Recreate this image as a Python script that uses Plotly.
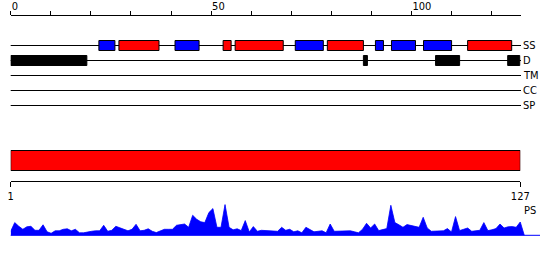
import plotly.graph_objects as go

# ---------------- data ----------------
axis_ticks = [0, 50, 100]
axis_minor = 10
seq_len = 127

track_names = ["SS", "D", "TM", "CC", "SP"]

ss_start = [22, 27, 41, 53, 56, 71, 79, 91, 95, 103, 114]
ss_end = [26, 37, 47, 55, 68, 78, 88, 93, 101, 110, 125]
ss_kind = ["E", "H", "E", "H", "H", "E", "H", "E", "E", "E", "H"]

d_start = [0, 88, 106, 124]
d_end = [19, 89, 112, 127]

domain_start = [1]
domain_end = [127]

ps_values = [
    4, 12.7, 9, 6, 8.5, 9, 5, 5, 10.5, 3.5,
    2, 4.5, 4.5, 6, 6.5, 4.5, 6, 2.5, 2.5, 3.5,
    4, 4.5, 4.5, 10, 4, 5, 9, 7.5, 6, 4.5,
    6, 11, 4.5, 5, 6.5, 4, 2.7, 4, 6, 6,
    6, 10, 11, 11.3, 8, 20, 16, 13.5, 12.7, 22.7,
    26.7, 8, 8, 30.7, 8, 5.5, 6.5, 4.7, 14.7, 3.3,
    8.7, 4, 5, 4.7, 4, 4, 4, 8, 5, 6,
    3.5, 4.5, 2.5, 8, 6, 3.5, 4, 4.5, 2.5, 11.3,
    4, 4, 4, 4, 4.5, 3.5, 2.5, 6, 12, 7.3,
    11.3, 4.7, 5.5, 6.7, 30, 12.7, 10.5, 8, 10.7, 10,
    9, 8, 18, 7.3, 4, 4, 4, 4.5, 6.7, 3.3,
    18.7, 4.7, 6, 7.3, 4, 4.5, 5, 12.7, 4.7, 5.5,
    6.7, 11.3, 7.3, 8.5, 8.7, 8, 13.3,
]

# ---------------- layout geometry (pixels) ----------------
W, H = 550, 260
X0, X1 = 10.7, 521.0
X1b = 520.3
X1ps = 540.0
top_scale = 4.008
bot_scale = 4.044
track_y = {"SS": 45.5, "D": 60.5, "TM": 75.5, "CC": 90.5, "SP": 105.5}
ps_base = 235.3
FONT = "Liberation Sans Narrow, DejaVu Sans Condensed, Arial Narrow, sans-serif"
COL = {"H": "#ff0000", "E": "#0000ff"}

fig = go.Figure()

# SS boxes
for kind in ["E", "H"]:
    s = [a for a, k in zip(ss_start, ss_kind) if k == kind]
    e = [b for b, k in zip(ss_end, ss_kind) if k == kind]
    fig.add_trace(go.Bar(
        orientation="h", y=[track_y["SS"]] * len(s), x=[b - a for a, b in zip(s, e)],
        base=s, width=10, marker=dict(color=COL[kind], line=dict(color="black", width=1)),
        xaxis="x", yaxis="y", hoverinfo="skip", showlegend=False))

# D boxes
fig.add_trace(go.Bar(
    orientation="h", y=[track_y["D"]] * len(d_start), x=[b - a for a, b in zip(d_start, d_end)],
    base=d_start, width=10, marker=dict(color="black", line=dict(color="black", width=1)),
    xaxis="x", yaxis="y", hoverinfo="skip", showlegend=False))

# domain bar
fig.add_trace(go.Bar(
    orientation="h", y=[160.5] * len(domain_start), x=[b - a for a, b in zip(domain_start, domain_end)],
    base=domain_start, width=20, marker=dict(color="#ff0000", line=dict(color="black", width=1)),
    xaxis="x2", yaxis="y", hoverinfo="skip", showlegend=False))

# PS area
ps_x = list(range(1, seq_len + 1)) + [seq_len + 1]
ps_y = ps_values + [0]
fig.add_trace(go.Scatter(
    x=ps_x, y=ps_y, mode="lines", fill="tozeroy", fillcolor="#0000ff",
    line=dict(color="#0000ff", width=0.8), xaxis="x3", yaxis="y3",
    hoverinfo="skip", showlegend=False))

shapes = []
for name in track_names:
    shapes.append(dict(type="line", xref="x domain", yref="y", x0=0, x1=1,
                       y0=track_y[name], y1=track_y[name],
                       line=dict(color="black", width=1), layer="below"))
shapes.append(dict(type="line", xref="x3 domain", yref="y3", x0=0, x1=1, y0=0, y1=0,
                   line=dict(color="#0000ff", width=1), layer="below"))

annotations = []
for name in track_names:
    annotations.append(dict(text=name, xref="paper", yref="y", x=X1 / W, y=track_y[name],
                            xanchor="left", yanchor="middle", showarrow=False,
                            font=dict(family=FONT, size=11, color="black")))
annotations.append(dict(text="PS", xref="paper", yref="y", x=521.5 / W, y=210,
                        xanchor="left", yanchor="middle", showarrow=False,
                        font=dict(family=FONT, size=11, color="black")))

fig.update_layout(
    width=W, height=H, margin=dict(l=0, r=0, t=0, b=0, autoexpand=False),
    paper_bgcolor="white", plot_bgcolor="rgba(0,0,0,0)",
    barmode="overlay", showlegend=False,
    font=dict(family=FONT, size=11, color="black"),
    xaxis=dict(domain=[X0 / W, X1 / W], range=[0, (X1 - X0) / top_scale],
               anchor="free", position=1 - 14.5 / H, side="top", automargin=False,
               showline=True, linecolor="black", linewidth=1,
               ticks="outside", ticklen=4, tickcolor="black", tickwidth=1,
               tickvals=axis_ticks, ticklabelposition="outside right",
               minor=dict(dtick=axis_minor, ticks="outside", ticklen=4, tickcolor="black"),
               showgrid=False, zeroline=False, fixedrange=True,
               tickfont=dict(family=FONT, size=11, color="black")),
    xaxis2=dict(domain=[X0 / W, X1b / W], range=[1, seq_len],
                anchor="free", position=1 - 180.5 / H, side="bottom", automargin=False,
                showline=True, linecolor="black", linewidth=1,
                ticks="outside", ticklen=5, tickcolor="black",
                tickvals=[1, seq_len], ticktext=["1", str(seq_len)],
                showgrid=False, zeroline=False, fixedrange=True,
                tickfont=dict(family=FONT, size=11, color="black")),
    xaxis3=dict(domain=[X0 / W, X1ps / W], range=[1, 1 + (X1ps - X0) / bot_scale],
                anchor="y3", visible=False, fixedrange=True, automargin=False),
    yaxis=dict(domain=[0, 1], range=[H, 0], visible=False, anchor="x", fixedrange=True,
               automargin=False),
    yaxis3=dict(domain=[0, 1], range=[-(H - ps_base), ps_base], visible=False,
                anchor="x3", fixedrange=True, automargin=False),
    shapes=shapes, annotations=annotations,
)

fig.write_html("out.html")
